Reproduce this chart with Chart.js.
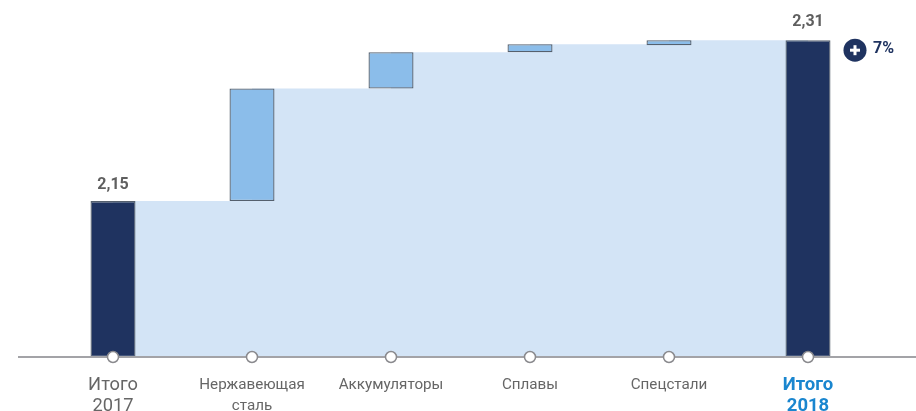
<!DOCTYPE html>
<html><head><meta charset="utf-8">
<style>html,body{margin:0;padding:0;background:#fff;overflow:hidden}#w{position:relative;width:916px;height:411px}</style>
<script src="https://cdn.jsdelivr.net/npm/chart.js@4"></script></head>
<body><div id="w"><canvas id="c" width="916" height="411"></canvas></div>
<script>
const categories = [["Итого","2017"],["Нержавеющая","сталь"],["Аккумуляторы"],["Сплавы"],["Спецстали"],["Итого","2018"]];
const axisMin = 1.995;
const axisMax = 2.343;
const barLow  = [axisMin, 2.15, 2.262, 2.298, 2.305, axisMin];
const barHigh = [2.15, 2.262, 2.298, 2.306, 2.31, 2.31];
const levels  = [2.15, 2.262, 2.298, 2.306, 2.31, 2.31];
const totalLabels = ["2,15", null, null, null, null, "2,31"];
const changeLabel = "7%";

const axisPlugin = {
  id:'extras',
  beforeDatasetDraw(chart,args){
    if(args.index!==2) return;
    const ctx=chart.ctx, y=chart.scales.y.bottom;
    ctx.save();ctx.strokeStyle='#a3a3a7';ctx.lineWidth=2;
    ctx.beginPath();ctx.moveTo(18,y);ctx.lineTo(916,y);ctx.stroke();ctx.restore();
  },
  afterDraw(chart){
    const ctx=chart.ctx,x=chart.scales.x,y=chart.scales.y;
    ctx.save();
    ctx.font='700 16px Roboto';ctx.fillStyle='#5f5f5f';ctx.textAlign='center';ctx.textBaseline='middle';
    totalLabels.forEach((t,i)=>{ if(t) ctx.fillText(t,x.getPixelForValue(i),y.getPixelForValue(barHigh[i])-(i===0?16:18)); });
    const last=x.getPixelForValue(5), top=y.getPixelForValue(barHigh[5]);
    const cx=last+47, cy=top+10;
    ctx.fillStyle='#1f3360';ctx.beginPath();ctx.arc(cx,cy,11.5,0,Math.PI*2);ctx.fill();
    ctx.fillStyle='#fff';ctx.fillRect(cx-5,cy-1.5,10,3);ctx.fillRect(cx-1.5,cy-5,3,10);
    ctx.fillStyle='#1f3360';ctx.font='700 16px Roboto';ctx.textAlign='left';
    ctx.fillText(changeLabel,last+65,top+9);
    ctx.restore();
  }
};

new Chart(document.getElementById('c'),{
  data:{labels:categories,datasets:[
    {type:'line',data:levels,stepped:true,fill:'start',backgroundColor:'#d3e4f6',borderWidth:0,pointRadius:0,order:3},
    {type:'bar',data:barLow.map((v,i)=>[v,barHigh[i]]),barPercentage:45/139,categoryPercentage:1,
     backgroundColor:(c)=>(c.dataIndex===0||c.dataIndex===5)?'#1f3360':'#8bbdea',
     borderColor:'#55606e',borderWidth:1.3,borderSkipped:false,order:2},
    {type:'line',data:categories.map(()=>axisMin),showLine:false,pointRadius:5.5,pointBorderWidth:1.5,
     pointBackgroundColor:'#fff',pointBorderColor:'#8a8a8e',clip:false,order:1}
  ]},
  options:{
    responsive:false,animation:false,
    layout:{padding:{left:43.5,right:38.5,top:0,bottom:0}},
    plugins:{legend:{display:false},tooltip:{enabled:false}},
    scales:{
      x:{type:'category',offset:true,grid:{display:false},border:{display:false},
        afterFit(s){s.height=54;},
        ticks:{autoSkip:false,maxRotation:0,minRotation:0,padding:10,
          color:(c)=>c.index===5?'#1a86cf':'#666',
          font:(c)=>c.index===5?{family:'Roboto',size:18.5,weight:'700',lineHeight:1.14}
            :c.index===0?{family:'Roboto',size:18.3,weight:'400',lineHeight:1.15}
            :{family:'Roboto',size:15.2,weight:'400',lineHeight:1.37}}},
      y:{display:false,min:axisMin,max:axisMax}
    }
  },
  plugins:[axisPlugin]
});
</script></body></html>
